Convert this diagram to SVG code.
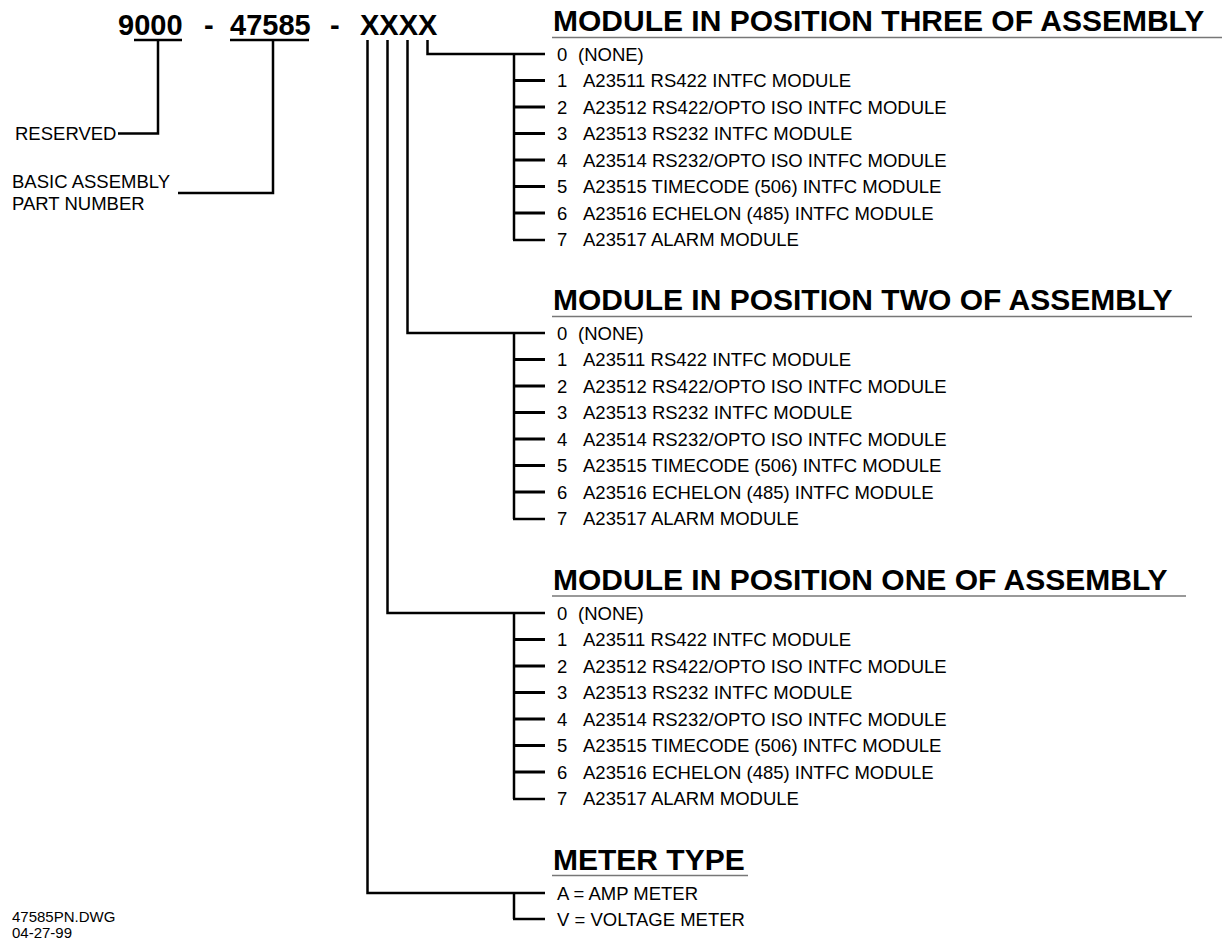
<svg xmlns="http://www.w3.org/2000/svg" width="1224" height="940" viewBox="0 0 1224 940">
<style>
.hd{font-family:"Liberation Sans",Arial,sans-serif;font-weight:bold;font-size:29px;fill:#000}
.tt{font-family:"Liberation Sans",Arial,sans-serif;font-weight:bold;font-size:30px;fill:#000}
.tx{font-family:"Liberation Sans",Arial,sans-serif;font-size:18.5px;fill:#000}
.ft{font-family:"Liberation Sans",Arial,sans-serif;font-size:15px;fill:#000}
.ln{stroke:#000;stroke-width:2.5;fill:none}
.tk{stroke:#000;stroke-width:3;fill:none}
.ul{stroke:#777;stroke-width:1.5;fill:none}
</style>
<rect width="1224" height="940" fill="#fff"/>
<defs>
<g id="list">
<line class="ln" x1="514" y1="0" x2="514" y2="186"/>
<line class="tk" x1="514" y1="26.5" x2="545" y2="26.5"/>
<line class="tk" x1="514" y1="53" x2="545" y2="53"/>
<line class="tk" x1="514" y1="79.5" x2="545" y2="79.5"/>
<line class="tk" x1="514" y1="106" x2="545" y2="106"/>
<line class="tk" x1="514" y1="132.5" x2="545" y2="132.5"/>
<line class="tk" x1="514" y1="159" x2="545" y2="159"/>
<line class="ln" x1="513" y1="186" x2="545" y2="186"/>
<text class="tx" x="557" y="6.6">0</text><text class="tx" x="578" y="6.6">(NONE)</text>
<text class="tx" x="557" y="33.1">1</text><text class="tx" x="583" y="33.1">A23511 RS422 INTFC MODULE</text>
<text class="tx" x="557" y="59.6">2</text><text class="tx" x="583" y="59.6">A23512 RS422/OPTO ISO INTFC MODULE</text>
<text class="tx" x="557" y="86.1">3</text><text class="tx" x="583" y="86.1">A23513 RS232 INTFC MODULE</text>
<text class="tx" x="557" y="112.6">4</text><text class="tx" x="583" y="112.6">A23514 RS232/OPTO ISO INTFC MODULE</text>
<text class="tx" x="557" y="139.1">5</text><text class="tx" x="583" y="139.1">A23515 TIMECODE (506) INTFC MODULE</text>
<text class="tx" x="557" y="165.6">6</text><text class="tx" x="583" y="165.6">A23516 ECHELON (485) INTFC MODULE</text>
<text class="tx" x="557" y="192.1">7</text><text class="tx" x="583" y="192.1">A23517 ALARM MODULE</text>
</g>
</defs>

<g id="part-number">
<text class="hd" x="118" y="35">9000</text>
<text class="hd" x="204" y="35">-</text>
<text class="hd" x="230" y="35">47585</text>
<text class="hd" x="330" y="35">-</text>
<text class="hd" x="360" y="35">XXXX</text>
<line class="ln" x1="134" y1="40" x2="182" y2="40"/>
<line class="ln" x1="230" y1="40" x2="309" y2="40"/>
</g>

<g id="reserved">
<text class="tx" x="15" y="139.5">RESERVED</text>
</g>

<g id="basic-assembly">
<text class="tx" x="12" y="188">BASIC ASSEMBLY</text>
<text class="tx" x="12" y="210">PART NUMBER</text>
</g>

<g id="position-three">
<text class="tt" x="553" y="31">MODULE IN POSITION THREE OF ASSEMBLY</text>
<line class="ul" x1="552" y1="37.5" x2="1222" y2="37.5"/>
<use href="#list" y="54"/>
</g>

<g id="position-two">
<text class="tt" x="553" y="310">MODULE IN POSITION TWO OF ASSEMBLY</text>
<line class="ul" x1="552" y1="316.5" x2="1192" y2="316.5"/>
<use href="#list" y="333"/>
</g>

<g id="position-one">
<text class="tt" x="553" y="590">MODULE IN POSITION ONE OF ASSEMBLY</text>
<line class="ul" x1="552" y1="596" x2="1186" y2="596"/>
<use href="#list" y="613"/>
</g>

<g id="meter-type">
<text class="tt" x="553" y="870">METER TYPE</text>
<line class="ul" x1="552" y1="875.5" x2="748" y2="875.5"/>
<line class="ln" x1="514" y1="893" x2="514" y2="919"/>
<line class="ln" x1="513" y1="919" x2="545" y2="919"/>
<text class="tx" x="557" y="899.6">A = AMP METER</text>
<text class="tx" x="557" y="925.6">V = VOLTAGE METER</text>
</g>

<g id="footer">
<text class="ft" x="12" y="922">47585PN.DWG</text>
<text class="ft" x="12" y="938">04-27-99</text>
</g>

<g id="connectors">
<polyline class="ln" points="158,40 158,133.5 118,133.5"/>
<polyline class="ln" points="273,40 273,193 178,193"/>
<polyline class="ln" points="427.5,40 427.5,54 545,54"/>
<polyline class="ln" points="407.5,40 407.5,333 545,333"/>
<polyline class="ln" points="387.5,40 387.5,613 545,613"/>
<polyline class="ln" points="367.5,40 367.5,893 545,893"/>
</g>
</svg>
